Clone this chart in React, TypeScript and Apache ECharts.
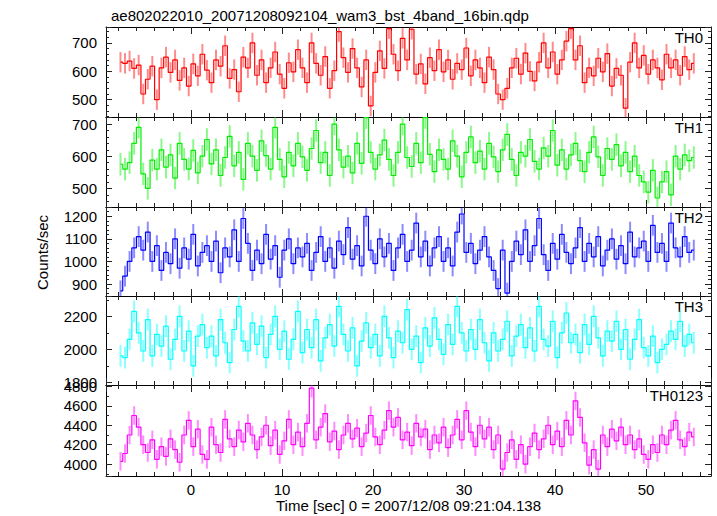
import React, { useEffect, useRef } from "react";
import * as echarts from "echarts";

const TITLE = "ae802022010_20071208092104_wam3_bst_4band_16bin.qdp";
const X_NAME = "Time [sec] 0 = 2007/12/08 09:21:04.138";
const Y_NAME = "Counts/sec";
const PANEL_NAMES = ["TH0", "TH1", "TH2", "TH3", "TH0123"];

// bin layout (0.5 s bins)
const T_START = -7.75;
const T_BIN = 0.5;
const X_MIN = -9.34;
const X_MAX = 57.14;

const TH0 = [
  632, 628, 636, 610, 622, 520, 572, 618, 500, 612,
  650, 596, 640, 568, 612, 548, 626, 584, 660, 604,
  560, 640, 618, 690, 575, 606, 528, 650, 612, 700,
  586, 640, 560, 612, 668, 590, 540, 630, 598, 676,
  612, 560, 700, 628, 586, 652, 540, 602, 740, 648,
  596, 680, 612, 545, 640, 478, 596, 672, 610, 750,
  660, 602, 716, 640, 748, 590, 626, 556, 648, 602,
  676, 598, 640, 572, 628, 606, 682, 584, 640, 612,
  560, 650, 606, 520, 500, 540, 612, 646, 590, 664,
  600, 566, 632, 700, 612, 668, 590, 640, 706, 750,
  640, 690, 560, 612, 584, 646, 598, 662, 548, 610,
  586, 470, 632, 700, 612, 656, 590, 640, 612, 570,
  660, 612, 640, 586, 652, 606, 628,
];
const TH1 = [
  575, 560, 580, 640, 690, 545, 500, 588, 560, 620,
  566, 604, 532, 640, 590, 560, 618, 548, 600, 652,
  576, 620, 540, 596, 662, 570, 612, 528, 640, 600,
  556, 648, 602, 560, 690, 590, 536, 612, 570, 640,
  598, 556, 624, 680, 580, 612, 540, 700, 620, 566,
  600, 548, 640, 578, 720, 612, 560, 604, 650, 590,
  540, 612, 700, 596, 568, 640, 580, 720, 606, 552,
  620, 590, 560, 648, 600, 536, 612, 660, 580, 616,
  560, 640, 598, 552, 620, 668, 590, 540, 612, 600,
  652, 584, 560, 626, 600, 680, 572, 620, 560, 604,
  640, 586, 552, 612, 660, 598, 540, 624, 590, 636,
  570, 612, 552, 600, 540, 520, 488, 556, 470, 520,
  552, 480, 600, 560, 604, 586, 596,
];
const TH2 = [
  870, 935, 1000, 1060, 1110, 1050, 1130, 1000, 1070, 960,
  1040, 990, 1100, 970, 1060, 1010, 1120, 980, 1040, 1070,
  1000, 1090, 950, 1060, 1020, 1140, 1000, 1190, 1080, 960,
  1050, 990, 1120, 1010, 1070, 930, 1050, 1100, 990, 1060,
  1020, 1080, 960, 1040, 1110, 1000, 1060, 970, 1090, 1030,
  1150, 1010, 1070, 980, 1200, 1050, 990, 1100, 1020, 1080,
  960, 1060, 1120, 1000, 1050, 1170, 1020, 1090, 980, 1060,
  1110, 1000, 1060, 980, 1130, 1210, 1040, 1080, 990, 1050,
  1110, 1020, 960, 880, 1050, 860, 1000, 1090, 1030, 1140,
  1000, 1070, 1190, 1030, 960, 1080, 1010, 1120, 1040, 990,
  1060, 1150, 1000, 1080, 1020, 1110, 980, 1050, 1100, 1010,
  1070, 990, 1130, 1020, 1060, 1090, 1000, 1160, 1040, 1080,
  1000, 1170, 1060, 1020, 1110, 1040, 1050,
];
const TH3 = [
  1960, 1950, 2060, 2230, 2100, 1990, 2180, 1960, 2090, 2020,
  2140, 1940, 2060, 2200, 1990, 2110, 1900, 2080, 2150, 2010,
  2080, 1960, 2180, 2040, 1920, 2120, 2260, 2050, 1990, 2160,
  2030, 2140, 1950, 2090, 2200, 2000, 2110, 1940, 2060, 2230,
  1980, 2120, 2010, 2180, 1930, 2070, 2150, 2020, 2260, 2090,
  1990, 2130, 1900, 2050, 2160, 2010, 2090, 1960, 2200, 2070,
  1950, 2110, 2040, 2240, 2000, 2080, 1920, 2130, 2020, 2190,
  2060, 1970, 2150, 2030, 2260, 2100, 1990, 2120, 2000, 2180,
  2040, 1930, 2100, 1990, 2060, 2170, 1960, 2080, 2150, 2010,
  2130, 1990, 2260, 2060, 2020, 2170, 1950, 2100, 2220, 2040,
  2090, 1980, 2150, 2030, 2200, 2070, 1960, 2110, 2050, 2170,
  2000, 2120, 1940, 2060, 2180, 2010, 1960, 2080, 1920, 2000,
  2030, 2110, 2060, 2170, 2020, 2090, 2040,
];
const TH0123 = [
  4030, 4110, 4300, 4500, 4380, 4200, 4120, 4250, 4050, 4180,
  4080, 4260, 4150, 4020, 4300, 4450, 4180, 4360, 4100, 4050,
  4380, 4200, 4120, 4460, 4260, 4180, 4350, 4230, 4420, 4300,
  4150, 4280, 4400, 4190, 4350, 4100, 4240, 4460, 4200, 4330,
  4180, 4420, 4780, 4250, 4380, 4520, 4230, 4340, 4150, 4300,
  4420, 4260, 4370, 4180, 4320, 4500, 4280, 4200, 4350, 4550,
  4380, 4480, 4250, 4330, 4190, 4420, 4280, 4360, 4150, 4300,
  4220, 4380, 4170, 4300, 4460, 4250, 4550, 4330, 4180, 4400,
  4260, 4380, 4150, 4300, 3950, 4120, 4250, 4050, 4200, 4000,
  4180, 4320, 4150, 4260, 4400, 4200, 4340, 4180, 4450, 4300,
  4650, 4480, 4220, 3990, 4150, 3950, 4300, 4180, 4360, 4240,
  4380, 4200, 4300, 4150, 4260, 4100, 4050, 4200, 4120, 4300,
  4200, 4350, 4450, 4250, 4180, 4330, 4280,
];

const SERIES_VALUES = [TH0, TH1, TH2, TH3, TH0123];
const ERRORS = [36, 35, 46, 66, 95];
const Y_RANGES = [
  [439, 756],
  [442, 722],
  [847, 1241],
  [1784, 2323],
  [3879, 4813],
];
const Y_SPLIT = [3, 3, 4, 3, 5];
const Y_MINOR = [5, 5, 5, 2, 2];
const COLORS = ["#ff0000", "#00ee00", "#0000ff", "#00ffff", "#ff00ff"];

// layout
const GRID_TOPS = [27, 117, 207, 296, 385];
const GRID_HEIGHTS = [90, 90, 89, 89, 91];
const FONT = "Liberation Sans, Arial, Helvetica, sans-serif";

export default function App() {
  const ref = useRef<HTMLDivElement>(null);

  useEffect(() => {
    if (!ref.current) return;
    const chart = echarts.init(ref.current, undefined, { renderer: "svg" });

    const grids: any[] = [];
    const xAxes: any[] = [];
    const yAxes: any[] = [];
    const series: any[] = [];
    const graphics: any[] = [];

    const axisCommon = {
      axisLine: { show: true, onZero: false, lineStyle: { color: "#000", width: 1 } },
      splitLine: { show: false },
    };

    for (let p = 0; p < 5; p++) {
      grids.push({
        left: 106,
        right: 6,
        top: GRID_TOPS[p],
        height: GRID_HEIGHTS[p],
        show: false,
      });
      const last = p === 4;
      for (const pos of ["bottom", "top"]) {
        const isBottom = pos === "bottom";
        xAxes.push({
          ...axisCommon,
          type: "value",
          gridIndex: p,
          position: pos,
          min: X_MIN,
          max: X_MAX,
          splitNumber: 6,
          axisTick: { show: true, inside: true, length: 7, lineStyle: { color: "#222" } },
          minorTick: { show: true, splitNumber: 5, length: 4, lineStyle: { color: "#222" } },
          axisLabel: {
            show: last && isBottom,
            margin: 6,
            color: "#000",
            fontFamily: FONT,
            fontSize: 15,
            formatter: (v: number) => (Math.abs(v % 10) < 1e-9 ? String(v) : ""),
          },
          name: last && isBottom ? X_NAME : "",
          nameLocation: "middle",
          nameGap: 22,
          nameTextStyle: { color: "#000", fontFamily: FONT, fontSize: 15 },
        });
      }
      for (const pos of ["left", "right"]) {
        const isLeft = pos === "left";
        yAxes.push({
          ...axisCommon,
          type: "value",
          gridIndex: p,
          position: pos,
          min: Y_RANGES[p][0],
          max: Y_RANGES[p][1],
          splitNumber: Y_SPLIT[p],
          axisTick: { show: true, inside: true, length: 6, lineStyle: { color: "#222" } },
          minorTick: { show: true, splitNumber: Y_MINOR[p], length: 3, lineStyle: { color: "#222" } },
          axisLabel: {
            show: isLeft,
            margin: 9,
            color: "#000",
            fontFamily: FONT,
            fontSize: 15,
            formatter: (v: number) => (Math.abs(v % 100) < 1e-9 ? String(v) : ""),
          },
        });
      }

      const vals = SERIES_VALUES[p];
      const err = ERRORS[p];
      const color = COLORS[p];
      const pts = vals.map((v, i) => [T_START + i * T_BIN, v, err]);

      series.push({
        type: "custom",
        xAxisIndex: p * 2,
        yAxisIndex: p * 2,
        clip: true,
        silent: true,
        data: pts,
        renderItem: (params: any, api: any) => {
          const x = api.value(0);
          const y = api.value(1);
          const e = api.value(2);
          const a = api.coord([x, y - e]);
          const b = api.coord([x, y + e]);
          const cs = params.coordSys;
          const top = Math.max(cs.y, Math.min(a[1], b[1]));
          const bot = Math.min(cs.y + cs.height, Math.max(a[1], b[1]));
          return {
            type: "line",
            shape: { x1: a[0], y1: top, x2: a[0], y2: bot },
            style: { stroke: color, lineWidth: 2, opacity: 0.45 },
          };
        },
      });
      series.push({
        type: "line",
        xAxisIndex: p * 2,
        yAxisIndex: p * 2,
        step: "middle",
        showSymbol: false,
        silent: true,
        clip: true,
        data: pts.map((d) => [d[0], d[1]]),
        lineStyle: { color, width: 1.2 },
        itemStyle: { color },
      });

      graphics.push({
        type: "text",
        right: 14,
        top: GRID_TOPS[p] + 3,
        style: { text: PANEL_NAMES[p], font: `15px ${FONT}`, fill: "#000" },
      });
    }

    graphics.push({
      type: "text",
      left: 35,
      top: 215,
      rotation: Math.PI / 2,
      style: { text: Y_NAME, font: `15px ${FONT}`, fill: "#000" },
    });

    chart.setOption({
      animation: false,
      backgroundColor: "#fff",
      title: {
        text: TITLE,
        left: 106,
        top: 3,
        textStyle: { color: "#000", fontFamily: FONT, fontSize: 15, fontWeight: "normal" },
      },
      grid: grids,
      xAxis: xAxes,
      yAxis: yAxes,
      series,
      graphic: graphics,
    });

    return () => chart.dispose();
  }, []);

  return <div ref={ref} style={{ width: 717, height: 516, position: "absolute", left: 0, top: 0 }} />;
}
